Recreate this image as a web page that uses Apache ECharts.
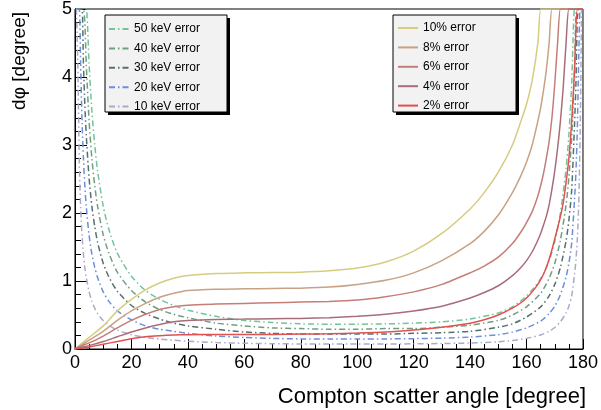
<!DOCTYPE html>
<html>
<head>
<meta charset="utf-8">
<script src="https://cdn.jsdelivr.net/npm/echarts@6/dist/echarts.min.js"></script>
<style>
  html, body { margin: 0; padding: 0; background: #fff; }
  #chart { width: 601px; height: 410px; }
</style>
</head>
<body>
<div id="chart"></div>
<script>
// scatter angles (degree) for the energy-resolution (%) curves
var solidAngles = [0, 2, 5, 10, 15, 20, 25, 30, 35, 40, 50, 60, 70, 80, 90, 100, 110, 120, 130, 140,
  145, 150, 155, 158, 160, 162, 164, 165, 166, 167, 168, 169, 170, 171, 172, 173, 174, 175, 176, 177, 178, 179, 180]
var err10 = [0, 0.07, 0.17, 0.34, 0.56, 0.73, 0.87, 0.97, 1.04, 1.08, 1.11, 1.12, 1.125, 1.13, 1.15, 1.19, 1.28, 1.44, 1.70, 2.06,
  2.30, 2.60, 3.00, 3.35, 3.60, 3.95, 4.50, 5, 5, 5, 5, 5, 5, 5, 5, 5, 5, 5, 5, 5, 5, 5, 5]
var err8 = [0, 0.05, 0.13, 0.26, 0.42, 0.56, 0.67, 0.76, 0.82, 0.86, 0.88, 0.885, 0.89, 0.895, 0.91, 0.95, 1.01, 1.12, 1.30, 1.55,
  1.73, 1.97, 2.30, 2.55, 2.75, 3.00, 3.35, 3.55, 3.80, 4.10, 4.50, 5, 5, 5, 5, 5, 5, 5, 5, 5, 5, 5, 5]
var err6 = [0, 0.04, 0.09, 0.19, 0.31, 0.42, 0.51, 0.58, 0.62, 0.645, 0.66, 0.67, 0.68, 0.69, 0.70, 0.72, 0.77, 0.84, 0.95, 1.12,
  1.22, 1.35, 1.55, 1.72, 1.86, 2.02, 2.25, 2.40, 2.58, 2.80, 3.05, 3.40, 3.90, 4.50, 5, 5, 5, 5, 5, 5, 5, 5, 5]
var err4 = [0, 0.02, 0.05, 0.11, 0.18, 0.25, 0.31, 0.36, 0.40, 0.42, 0.435, 0.44, 0.445, 0.45, 0.46, 0.48, 0.51, 0.56, 0.63, 0.75,
  0.83, 0.93, 1.08, 1.20, 1.30, 1.43, 1.60, 1.70, 1.82, 1.95, 2.12, 2.35, 2.62, 2.95, 3.35, 3.85, 4.50, 5, 5, 5, 5, 5, 5]
var err2 = [0, 0.01, 0.03, 0.07, 0.11, 0.15, 0.18, 0.195, 0.205, 0.21, 0.215, 0.215, 0.215, 0.22, 0.225, 0.235, 0.25, 0.28, 0.32, 0.38,
  0.43, 0.50, 0.60, 0.68, 0.75, 0.84, 0.95, 1.02, 1.10, 1.20, 1.32, 1.46, 1.62, 1.78, 1.95, 2.15, 2.45, 2.80, 3.35, 4.10, 5, 5, 5]

// scatter angles (degree) for the fixed energy error (keV) curves
var dashAngles = [0.5, 1, 1.5, 2, 2.5, 3, 3.5, 4, 5, 6, 7, 8, 10, 12, 15, 20, 25, 30, 35, 40,
  50, 60, 70, 80, 90, 100, 110, 120, 130, 140, 150, 155, 160, 165, 168, 170, 172, 174, 175, 176, 177,
  177.5, 178, 178.5, 179, 179.5]
var kev50 = [5, 5, 5, 5, 5, 5, 5, 5, 4.19, 3.49, 3.00, 2.62, 2.10, 1.76, 1.41, 1.07, 0.86, 0.73, 0.64, 0.57,
  0.48, 0.42, 0.39, 0.37, 0.365, 0.365, 0.37, 0.38, 0.40, 0.44, 0.53, 0.62, 0.78, 1.03, 1.30, 1.58, 2.00, 2.65, 3.15, 3.90, 5,
  5, 5, 5, 5, 5]
var kev40 = [5, 5, 5, 5, 5, 5, 4.78, 4.18, 3.35, 2.79, 2.40, 2.10, 1.68, 1.41, 1.13, 0.86, 0.69, 0.58, 0.51, 0.46,
  0.38, 0.34, 0.31, 0.30, 0.29, 0.29, 0.30, 0.30, 0.32, 0.35, 0.42, 0.50, 0.62, 0.82, 1.04, 1.26, 1.60, 2.12, 2.52, 3.12, 4.10,
  4.90, 5, 5, 5, 5]
var kev30 = [5, 5, 5, 5, 5, 4.18, 3.58, 3.14, 2.51, 2.09, 1.80, 1.57, 1.26, 1.06, 0.85, 0.64, 0.52, 0.44, 0.38, 0.34,
  0.29, 0.25, 0.23, 0.22, 0.22, 0.22, 0.22, 0.23, 0.24, 0.26, 0.32, 0.37, 0.47, 0.62, 0.78, 0.95, 1.20, 1.59, 1.89, 2.34, 3.30,
  3.90, 4.86, 5, 5, 5]
var kev20 = [5, 5, 5, 4.18, 3.34, 2.79, 2.39, 2.09, 1.67, 1.39, 1.20, 1.05, 0.84, 0.70, 0.56, 0.43, 0.34, 0.29, 0.26, 0.23,
  0.19, 0.17, 0.156, 0.148, 0.146, 0.146, 0.148, 0.152, 0.16, 0.176, 0.21, 0.25, 0.31, 0.41, 0.52, 0.63, 0.80, 1.06, 1.26, 1.56, 2.20,
  2.60, 3.24, 4.28, 5, 5]
var kev10 = [5, 4.18, 2.79, 2.09, 1.67, 1.39, 1.19, 1.05, 0.84, 0.70, 0.60, 0.52, 0.42, 0.35, 0.28, 0.21, 0.17, 0.146, 0.128, 0.114,
  0.096, 0.084, 0.078, 0.074, 0.073, 0.073, 0.074, 0.076, 0.08, 0.088, 0.106, 0.124, 0.156, 0.206, 0.26, 0.316, 0.40, 0.53, 0.63, 0.78, 1.10,
  1.30, 1.62, 2.14, 3.18, 5]

var dashNames = ['50 keV error', '40 keV error', '30 keV error', '20 keV error', '10 keV error']
var solidNames = ['10% error', '8% error', '6% error', '4% error', '2% error']

var font = '"Liberation Sans", Arial, Helvetica, sans-serif'
var dashDot = [6, 3, 1.5, 3]

function pairs(xs, ys) {
  return xs.map(function (x, i) { return [x, ys[i]] })
}

function curve(name, xs, ys, color, type) {
  return {
    name: name,
    type: 'line',
    data: pairs(xs, ys),
    symbol: 'none',
    smooth: 0.25,
    color: color,
    lineStyle: { color: color, width: 1.5, type: type }
  }
}

var chart = echarts.init(document.getElementById('chart'))

chart.setOption({
  animation: false,
  backgroundColor: '#fff',
  textStyle: { fontFamily: font },
  grid: { left: 75, right: 15, top: 8, bottom: 61, show: true, borderColor: '#000', borderWidth: 1, backgroundColor: 'transparent' },
  xAxis: {
    type: 'value', min: 0, max: 180, interval: 20,
    axisLine: { lineStyle: { color: '#000', width: 1 } },
    axisTick: { inside: true, length: 10, lineStyle: { color: '#000' } },
    minorTick: { show: true, splitNumber: 4, length: 5, lineStyle: { color: '#000' } },
    splitLine: { show: false },
    axisLabel: { color: '#000', fontSize: 18, fontFamily: font, margin: 5 }
  },
  yAxis: {
    type: 'value', min: 0, max: 5, interval: 1,
    axisLine: { lineStyle: { color: '#000', width: 1 } },
    axisTick: { inside: true, length: 12, lineStyle: { color: '#000' } },
    minorTick: { show: true, splitNumber: 5, length: 6, lineStyle: { color: '#000' } },
    splitLine: { show: false },
    axisLabel: { color: '#000', fontSize: 18, fontFamily: font, margin: 3 }
  },
  legend: [
    {
      data: dashNames, orient: 'vertical', left: 108, top: 23, z: 20,
      itemWidth: 20, itemHeight: 12, itemGap: 7.4, padding: 0,
      itemStyle: { opacity: 0 },
      textStyle: { fontSize: 12, color: '#000', fontFamily: font }
    },
    {
      data: solidNames, orient: 'vertical', left: 397, top: 22, z: 20,
      itemWidth: 20, itemHeight: 12, itemGap: 7.4, padding: 0,
      itemStyle: { opacity: 0 },
      textStyle: { fontSize: 12, color: '#000', fontFamily: font }
    }
  ],
  graphic: [
    { type: 'rect', shape: { x: 108, y: 18, width: 122, height: 97 }, style: { fill: '#000' }, z: 3 },
    { type: 'rect', shape: { x: 105, y: 15, width: 122, height: 97 }, style: { fill: '#f2f2f2', stroke: '#000', lineWidth: 1 }, z: 3 },
    { type: 'rect', shape: { x: 396, y: 18, width: 123, height: 97 }, style: { fill: '#000' }, z: 3 },
    { type: 'rect', shape: { x: 393, y: 15, width: 123, height: 97 }, style: { fill: '#f2f2f2', stroke: '#000', lineWidth: 1 }, z: 3 },
    {
      type: 'text', x: 586, y: 397,
      style: { text: 'Compton scatter angle [degree]', fontSize: 22, fontFamily: font, fill: '#000', textAlign: 'right', textVerticalAlign: 'middle' }
    },
    {
      type: 'text', x: 20, y: 12, rotation: Math.PI / 2,
      style: { text: 'd\u03c6 [degree]', fontSize: 19, fontFamily: font, fill: '#000', textAlign: 'right', textVerticalAlign: 'middle' }
    }
  ],
  series: [
    curve(dashNames[0], dashAngles, kev50, '#72c49b', dashDot),
    curve(dashNames[1], dashAngles, kev40, '#6f9f80', dashDot),
    curve(dashNames[2], dashAngles, kev30, '#56706e', dashDot),
    curve(dashNames[3], dashAngles, kev20, '#6b8fdc', dashDot),
    curve(dashNames[4], dashAngles, kev10, '#aaaacb', dashDot),
    curve(solidNames[0], solidAngles, err10, '#d6cc80', 'solid'),
    curve(solidNames[1], solidAngles, err8, '#c9a183', 'solid'),
    curve(solidNames[2], solidAngles, err6, '#c47e78', 'solid'),
    curve(solidNames[3], solidAngles, err4, '#a86d7a', 'solid'),
    curve(solidNames[4], solidAngles, err2, '#e0514f', 'solid')
  ]
})
</script>
</body>
</html>
